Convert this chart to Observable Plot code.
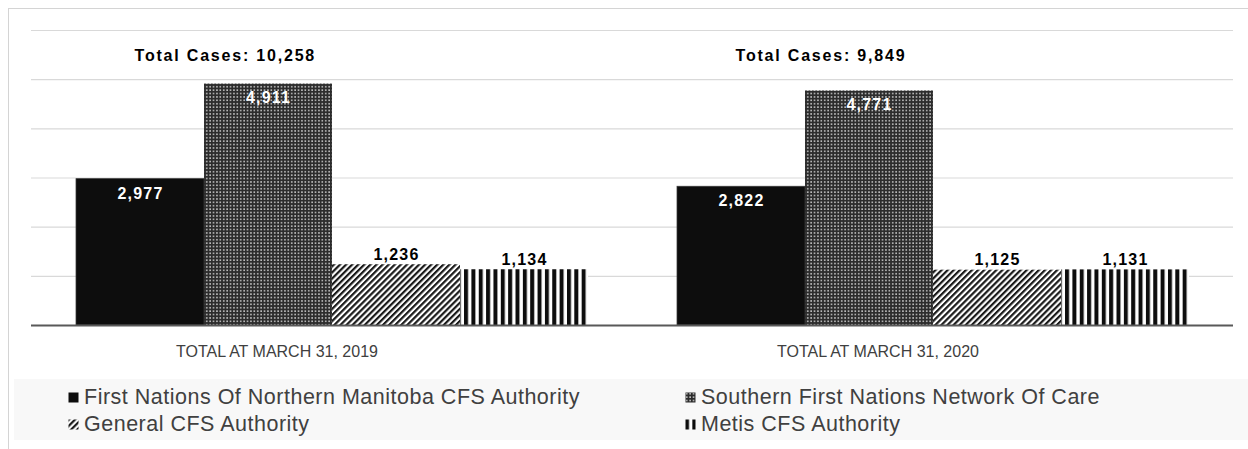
<!DOCTYPE html>
<html>
<head>
<meta charset="utf-8">
<script src="https://cdn.jsdelivr.net/npm/d3@7"></script>
<script src="https://cdn.jsdelivr.net/npm/@observablehq/plot@0.6"></script>
<style>
  html, body { margin: 0; padding: 0; background: #fff; overflow: hidden; width: 1248px; height: 449px; }
  body { position: relative; font-family: "Liberation Sans", Arial, sans-serif; }
  #frame { position: absolute; left: 8px; top: 8px; width: 1300px; height: 500px; border: 1px solid #d4d4d4; box-sizing: border-box; }
  #chart { position: absolute; left: 0; top: 0; }
  #legend { position: absolute; left: 14px; top: 379px; width: 1234px; height: 61px; background: #f8f8f8; }
  .item { position: absolute; display: flex; align-items: center; height: 26px; font-size: 21.5px; letter-spacing: 0.5px; color: #404040; white-space: nowrap; }
  .item svg { margin-right: 5px; }
</style>
</head>
<body>
<div id="frame"></div>
<div id="chart"></div>
<div id="legend"></div>
<script>
const categories = ["TOTAL AT MARCH 31, 2019", "TOTAL AT MARCH 31, 2020"];
const series = [
  "First Nations Of Northern Manitoba CFS Authority",
  "Southern First Nations Network Of Care",
  "General CFS Authority",
  "Metis CFS Authority"
];
const values2019 = [2977, 4911, 1236, 1134];
const values2020 = [2822, 4771, 1125, 1131];
const totals = [10258, 9849];
const yTicks = [0, 1000, 2000, 3000, 4000, 5000, 6000];
const patternIds = ["p-solid", "p-grid", "p-diag", "p-vert"];

const valuesByCategory = [values2019, values2020];
const rows = categories.flatMap((c, i) => series.map((s, j) => ({category: c, series: s, value: valuesByCategory[i][j], k: j})));
const totalRows = categories.map((c, i) => ({category: c, total: totals[i]}));
const fmt = d3.format(",");

const barMarks = series.map((s, j) => Plot.barY(rows.filter(d => d.k === j), {
  fx: "category", x: "series", y: "value", fill: `url(#${patternIds[j]})`,
  stroke: j === 0 ? "#3a3a3a" : "none", strokeWidth: 0.75
}));

const plot = Plot.plot({
  width: 1248,
  height: 370,
  marginLeft: 30,
  marginRight: 15,
  marginTop: 30,
  marginBottom: 45,
  style: {fontFamily: "'Liberation Sans', Arial, sans-serif", background: "transparent"},
  fx: {domain: categories, padding: 0, label: null},
  x: {domain: series, paddingInner: 0, paddingOuter: 0.33, axis: null},
  y: {domain: [0, 6000], axis: null},
  marks: [
    Plot.ruleY(yTicks.filter(t => t > 0), {stroke: "#d9d9d9", strokeWidth: 1.2}),
    ...barMarks,
    Plot.ruleY([0], {stroke: "#595959", strokeWidth: 2}),
    Plot.text(rows.filter(d => d.value > 2000), {
      fx: "category", x: "series", y: "value", text: d => fmt(d.value),
      fill: "white", fontWeight: "bold", fontSize: 16, lineAnchor: "top", dy: 8,
      style: {letterSpacing: "1px"}
    }),
    Plot.text(rows.filter(d => d.value <= 2000), {
      fx: "category", x: "series", y: "value", text: d => fmt(d.value),
      fill: "#000", fontWeight: "bold", fontSize: 16, lineAnchor: "bottom", dy: -5
    }),
    Plot.text(totalRows, {
      fx: "category", x: () => series[0], frameAnchor: "top", text: d => "Total Cases: " + fmt(d.total),
      fill: "#000", fontWeight: "bold", fontSize: 16, textAnchor: "start", lineAnchor: "middle", dy: 25, dx: -6
    }),
    Plot.axisFx({anchor: "bottom", tickSize: 0, tickPadding: 20, dx: -55, fontSize: 16, fill: "#404040", label: null})
  ]
});

// letter spacing for bold labels (Excel-like wide rendering)
d3.select(plot).selectAll("g[aria-label='text'] text").style("letter-spacing", "1.2px");
d3.select(plot).selectAll("g[aria-label='text']").filter((d, i, n) => i === 2).selectAll("text").style("letter-spacing", "1.8px");

// pattern definitions
const defs = d3.select(plot).insert("defs", ":first-child");
defs.append("pattern").attr("id", "p-solid").attr("patternUnits", "userSpaceOnUse").attr("width", 4).attr("height", 4)
  .append("rect").attr("width", 4).attr("height", 4).attr("fill", "#0d0d0d");
const pg = defs.append("pattern").attr("id", "p-grid").attr("patternUnits", "userSpaceOnUse").attr("width", 3.4).attr("height", 3.4);
pg.append("rect").attr("width", 3.4).attr("height", 3.4).attr("fill", "#2c2c2c");
pg.append("rect").attr("x", 1).attr("y", 1).attr("width", 1.5).attr("height", 1.5).attr("fill", "#d0d0d0");
const pd = defs.append("pattern").attr("id", "p-diag").attr("patternUnits", "userSpaceOnUse").attr("width", 4.3).attr("height", 10).attr("patternTransform", "rotate(45)");
pd.append("rect").attr("width", 4.3).attr("height", 10).attr("fill", "#ffffff");
pd.append("rect").attr("width", 2.2).attr("height", 10).attr("fill", "#1a1a1a");
const pv = defs.append("pattern").attr("id", "p-vert").attr("patternUnits", "userSpaceOnUse").attr("width", 7.35).attr("height", 10);
pv.append("rect").attr("width", 7.35).attr("height", 10).attr("fill", "#ffffff");
pv.append("rect").attr("width", 4).attr("height", 10).attr("fill", "#0d0d0d");

document.getElementById("chart").append(plot);

// legend
const legendPos = [[54, 18], [671, 18], [54, 45], [671, 45]];
const legendOrder = [0, 1, 2, 3];
const legend = d3.select("#legend");
legendOrder.forEach((j, i) => {
  const item = legend.append("div").attr("class", "item")
    .style("left", legendPos[i][0] + "px").style("top", (legendPos[i][1] - 13) + "px");
  const sw = item.append("svg").attr("width", 11).attr("height", 11);
  sw.append("rect").attr("width", 10).attr("height", 10).attr("x", 0.5).attr("y", 0.5).attr("fill", `url(#${patternIds[j]})`);
  item.append("span").text(series[j]);
});
</script>
</body>
</html>
